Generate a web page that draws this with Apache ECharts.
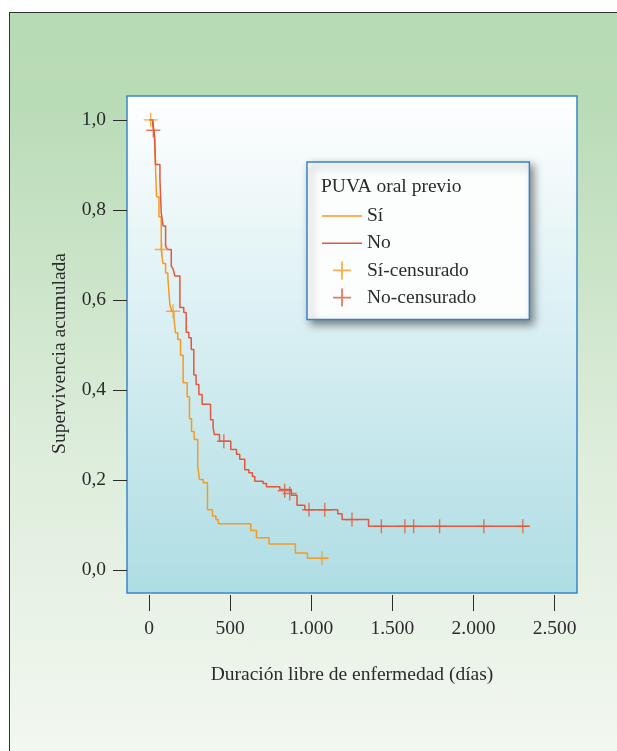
<!DOCTYPE html>
<html>
<head>
<meta charset="utf-8">
<script src="https://cdn.jsdelivr.net/npm/echarts@6/dist/echarts.min.js"></script>
<style>
  html, body { margin: 0; padding: 0; background: #fff; }
  #frame {
    position: absolute; left: 9px; top: 12px; width: 620px; height: 760px;
    border-left: 1px solid #333; border-top: 1px solid #333;
    background: linear-gradient(to bottom, #b7dbb5 0%, #b9dcb7 12%, #dcecda 55%, #f4f8f2 100%);
  }
  #chart { position: absolute; left: 0; top: 0; width: 617px; height: 751px; }
</style>
</head>
<body>
<div id="frame"></div>
<div id="chart"></div>
<script>
// curvas Kaplan-Meier: [días, supervivencia]
const siCurve = [
  [0, 1.0], [26, 0.986], [34, 0.96], [46, 0.829], [61, 0.785], [75, 0.712],
  [85, 0.681], [102, 0.66], [116, 0.649], [128, 0.59], [140, 0.575], [153, 0.56],
  [163, 0.527], [177, 0.512], [194, 0.477], [210, 0.416], [235, 0.385], [249, 0.336],
  [262, 0.308], [278, 0.29], [300, 0.231], [311, 0.201], [334, 0.194], [360, 0.134],
  [391, 0.12], [412, 0.112], [426, 0.103], [627, 0.088], [662, 0.072], [740, 0.058],
  [902, 0.038], [976, 0.026], [1103, 0.026]
];
const noCurve = [
  [0, 1.0], [22, 0.99], [30, 0.977], [34, 0.964], [40, 0.901], [67, 0.868], [75, 0.794],
  [87, 0.764], [102, 0.72], [112, 0.712], [137, 0.675], [149, 0.668], [159, 0.653],
  [190, 0.583], [214, 0.572], [229, 0.528], [245, 0.516], [260, 0.49], [276, 0.433],
  [290, 0.412], [307, 0.39], [327, 0.368], [379, 0.334], [395, 0.316], [403, 0.301],
  [434, 0.286], [504, 0.268], [539, 0.257], [559, 0.246], [590, 0.223], [615, 0.216],
  [637, 0.208], [652, 0.197], [703, 0.192], [724, 0.185], [806, 0.179], [877, 0.166],
  [912, 0.144], [960, 0.134], [1163, 0.125], [1190, 0.112], [1353, 0.097], [2345, 0.097]
];
// observaciones censuradas
const siCensored = [[10, 1.0], [78, 0.712], [148, 0.575], [1066, 0.026]];
const noCensored = [
  [26, 0.977], [461, 0.286], [836, 0.176], [867, 0.17], [986, 0.134], [1083, 0.134],
  [1251, 0.112], [1432, 0.097], [1577, 0.097], [1631, 0.097], [1791, 0.097],
  [2064, 0.097], [2304, 0.097]
];
const xTicks = [0, 500, 1000, 1500, 2000, 2500];
const yTicks = [0, 0.2, 0.4, 0.6, 0.8, 1.0];

const serif = '"Liberation Serif", "DejaVu Serif", serif';
const ink = '#2b2b2b';
const orange = '#f59a23';
const red = '#e4573a';
const cross = 'path://M0,9H20V11H0Z M9,0H11V20H9Z';
const dash = 'path://M0,0H40V1.5H0Z';
const fs = 19.5;

const chart = echarts.init(document.getElementById('chart'));
chart.setOption({
  animation: false,
  backgroundColor: 'transparent',
  title: {
    text: 'PUVA oral previo',
    left: 321,
    top: 177,
    z: 10,
    padding: 0,
    textStyle: { fontFamily: serif, fontSize: fs, fontWeight: 'normal', color: ink }
  },
  legend: {
    orient: 'vertical',
    left: 307,
    top: 162,
    padding: [44, 53, 12, 15],
    itemWidth: 40,
    itemHeight: 18,
    itemGap: 7.2,
    backgroundColor: '#fcfefe',
    borderColor: '#3a82c6',
    borderWidth: 1.5,
    shadowColor: 'rgba(0,0,0,0.45)',
    shadowBlur: 8,
    shadowOffsetX: 4,
    shadowOffsetY: 4,
    textStyle: { fontFamily: serif, fontSize: fs, color: ink },
    data: [
      { name: 'Sí', icon: dash },
      { name: 'No', icon: dash },
      'Sí-censurado',
      'No-censurado'
    ]
  },
  grid: {
    show: true,
    left: 127,
    top: 96,
    right: 40,
    bottom: 158,
    borderColor: '#3a86c8',
    borderWidth: 1.5,
    backgroundColor: new echarts.graphic.LinearGradient(0, 0, 0, 1, [
      { offset: 0, color: '#ffffff' },
      { offset: 1, color: '#aedde4' }
    ])
  },
  xAxis: {
    type: 'value',
    min: -136,
    max: 2638,
    offset: 2,
    name: 'Duración libre de enfermedad (días)',
    nameLocation: 'middle',
    nameGap: 70,
    nameTextStyle: { fontFamily: serif, fontSize: fs, color: ink },
    axisLine: { show: false, onZero: false },
    splitLine: { show: false },
    axisTick: { show: true, length: 16, customValues: xTicks, lineStyle: { color: ink } },
    axisLabel: {
      customValues: xTicks,
      margin: 24,
      fontFamily: serif,
      fontSize: fs,
      color: ink,
      formatter: v => v >= 1000 ? Math.floor(v / 1000) + '.' + String(v % 1000).padStart(3, '0') : String(v)
    }
  },
  yAxis: {
    type: 'value',
    min: -0.051,
    max: 1.053,
    name: 'Supervivencia acumulada',
    nameLocation: 'middle',
    nameGap: 57,
    nameTextStyle: { fontFamily: serif, fontSize: fs, color: ink, padding: [0, 0, 0, -18] },
    axisLine: { show: false, onZero: false },
    splitLine: { show: false },
    axisTick: { show: true, length: 14, customValues: yTicks, lineStyle: { color: ink } },
    axisLabel: {
      customValues: yTicks,
      margin: 21,
      fontFamily: serif,
      fontSize: fs,
      color: ink,
      formatter: v => v.toFixed(1).replace('.', ',')
    }
  },
  series: [
    {
      name: 'Sí',
      type: 'line',
      step: 'end',
      symbol: 'none',
      data: siCurve,
      color: orange,
      lineStyle: { width: 1.5, color: orange }
    },
    {
      name: 'No',
      type: 'line',
      step: 'end',
      symbol: 'none',
      data: noCurve,
      color: red,
      lineStyle: { width: 1.5, color: red }
    },
    {
      name: 'Sí-censurado',
      type: 'scatter',
      symbol: cross,
      symbolSize: 14,
      data: siCensored,
      itemStyle: { color: orange },
      z: 5
    },
    {
      name: 'No-censurado',
      type: 'scatter',
      symbol: cross,
      symbolSize: 14,
      data: noCensored,
      itemStyle: { color: red },
      z: 5
    }
  ]
});
</script>
</body>
</html>
